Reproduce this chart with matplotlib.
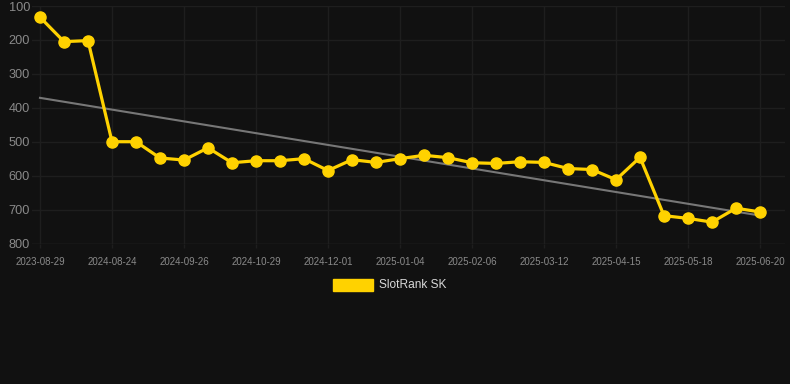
import numpy as np
import matplotlib
matplotlib.use("Agg")
import matplotlib.pyplot as plt
from matplotlib.patches import Rectangle

plt.rcParams['font.family'] = ['Liberation Sans', 'DejaVu Sans']

dates = ["2023-08-29", "2024-08-02", "2024-08-13", "2024-08-24", "2024-09-04",
         "2024-09-15", "2024-09-26", "2024-10-07", "2024-10-18", "2024-10-29",
         "2024-11-09", "2024-11-20", "2024-12-01", "2024-12-12", "2024-12-23",
         "2025-01-04", "2025-01-15", "2025-01-26", "2025-02-06", "2025-02-17",
         "2025-02-28", "2025-03-12", "2025-03-23", "2025-04-03", "2025-04-15",
         "2025-04-26", "2025-05-07", "2025-05-18", "2025-05-29", "2025-06-09",
         "2025-06-20"]
ranks = [133, 205, 202, 500, 500, 548, 554, 518, 562, 556,
         556, 550, 585, 553, 561, 550, 540, 547, 562, 564,
         559, 561, 579, 582, 612, 546, 718, 726, 737, 696,
         707]
series_name = "SlotRank SK"
y_ticks = [100, 200, 300, 400, 500, 600, 700, 800]

W, H = 790, 384
fig = plt.figure(figsize=(W / 100, H / 100), dpi=100)
bg = "#111111"
fig.patch.set_facecolor(bg)
ax = fig.add_axes([32 / W, 1 - 243.5 / H, (785 - 32) / W, (243.5 - 6) / H])
ax.set_facecolor(bg)

x = np.arange(len(ranks))
# trend line (linear regression)
coef = np.polyfit(x, ranks, 1)
ax.plot(x, np.polyval(coef, x), color="#777777", lw=1.5, zorder=2)

gold = "#FFD200"
ax.plot(x, ranks, color=gold, lw=2.3, marker="o", ms=8, zorder=3,
        label=series_name)

px = 30 / (760 - 40)
ax.set_xlim(-(40 - 32) * px, 30 + (785 - 760) * px)
ax.set_ylim(800, 100)
ax.set_yticks(y_ticks)
ax.set_xticks(x[::3])
ax.set_xticklabels([dates[i] for i in x[::3]])

ax.grid(True, color="#1e1e1e", lw=1)
for s in ax.spines.values():
    s.set_visible(False)
ax.tick_params(axis="y", colors="#8a8a8a", labelsize=9.2, length=0, pad=1.5)
ax.tick_params(axis="x", colors="#1e1e1e", labelcolor="#8a8a8a", labelsize=7,
               length=3, width=1, pad=7)
ax.axhline(800, color="#2a2a2a", lw=1, zorder=1)

fig.patches.append(Rectangle((333 / W, 1 - 291 / H), 40 / W, 12 / H,
                             transform=fig.transFigure, color=gold))
fig.text(379 / W, 1 - 285 / H, series_name, color="#d8d8d8", fontsize=8.6,
         va="center", ha="left")

fig.savefig("out.png", dpi=100, facecolor=bg)
